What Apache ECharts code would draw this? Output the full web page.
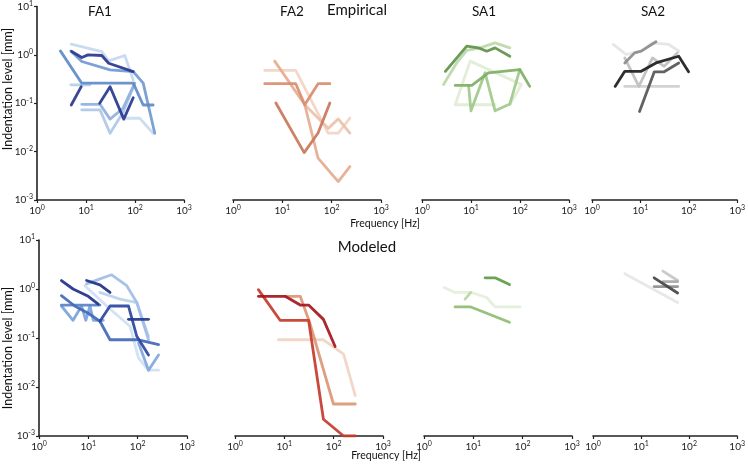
<!DOCTYPE html>
<html><head><meta charset="utf-8">
<script src="https://cdn.jsdelivr.net/npm/echarts/dist/echarts.min.js"></script>
<style>html,body{margin:0;padding:0;background:#fff}#c{width:748px;height:464px}</style>
</head><body><div id="c"></div><script>
// ---------- data: [frequency Hz, indentation mm] ----------
// Empirical FA1
const e1_lightD = [[67,0.049],[125,0.049],[234,0.024]];
const e1_lightA = [[5,1.66],[21,1.17],[29,0.75],[62,0.97],[92,0.30]];
const e1_lightB = [[8.2,0.073],[19.3,0.073],[31,0.024],[58,0.067],[99,0.26]];
const e1_lightC = [[4.9,0.24],[12,0.24]];
const e1_medC = [[8.2,0.095],[19.3,0.095],[31,0.047],[57,0.079],[99,0.26]];
const e1_medB = [[4.9,1.2],[8.2,0.73],[31,0.49],[92,0.45],[147,0.26],[253,0.024]];
const e1_medA = [[3,1.21],[8.2,0.26],[92,0.26],[147,0.092],[234,0.092]];
const e1_navyA = [[5.1,1.17],[8.2,0.88],[11,1.0],[21,0.97],[29,0.67],[92,0.45]];
const e1_navyB = [[5,0.092],[8,0.22]];
const e1_navyC = [[19,0.1],[31,0.22],[59,0.047],[92,0.13]];
// Empirical FA2
const e2_a = [[4.4,0.47],[18.7,0.47],[85,0.024],[136,0.024],[234,0.049]];
const e2_b = [[28.5,0.092],[85,0.03],[136,0.047],[234,0.024]];
const e2_c = [[7,0.73],[28.5,0.092],[53,0.0073],[136,0.0024],[234,0.0049]];
const e2_d = [[4.4,0.25],[18.7,0.25],[28.5,0.092],[53,0.25],[92,0.25]];
const e2_e = [[7.4,0.1],[27.7,0.0095],[53,0.024],[92,0.1]];
// Empirical SA1
const e3_e = [[31,0.092],[4.76,0.092],[9.6,0.73],[107,0.24],[62,0.092]];
const e3_b = [[2.75,0.24],[5.1,0.67],[8.2,1.21],[15.3,1.37],[31,1.74],[62,1.37]];
const e3_d = [[8.9,0.23],[10,0.069],[19.4,0.42],[31,0.069],[62,0.095],[99,0.49]];
const e3_c = [[4.76,0.23],[10.4,0.23],[22.6,0.42],[99,0.49],[158,0.22]];
const e3_a = [[3,0.45],[8.2,1.49],[14.2,1.37],[21,1.17],[31,1.37],[62,0.92]];
// Empirical SA2
const e4_e = [[2.75,1.61],[5.1,1.0],[10.4,1.17],[17.8,1.74],[38.8,1.61],[62,1.17]];
const e4_f = [[4.76,0.22],[62,0.22]];
const e4_d = [[4.76,0.85],[9.3,0.22],[17.8,0.85],[31,0.57],[58,1.08]];
const e4_c = [[4.76,0.67],[7.6,1.08],[10.4,1.17],[21,1.83]];
const e4_b = [[9.6,0.067],[19.4,0.44],[31,0.44],[62,0.67]];
const e4_a = [[3,0.22],[4.76,0.45],[10.4,0.45],[21,0.67],[62,0.92],[99,0.44]];
// Modeled FA1
const m1_j = [[8.5,1.17],[27.5,0.39],[70,0.174],[104,0.039],[166,0.022],[265,0.022]];
const m1_i = [[17.2,0.85],[44,0.62],[96,0.53],[166,0.108]];
const m1_h = [[9.2,1.27],[17.2,1.61],[29.7,1.95],[60,1.17],[96,0.53],[166,0.092]];
const m1_k = [[104,0.079],[166,0.022],[265,0.045]];
const m1_f = [[2.85,0.45],[4.9,0.23],[7.3,0.45],[8.9,0.23],[10.8,0.45],[12.6,0.23],[20.1,0.23]];
const m1_g = [[2.85,0.47],[17.2,0.47]];
const m1_e = [[2.85,0.73],[5.3,0.45],[9.95,0.32],[17.2,0.22],[27.5,0.092],[65,0.092],[104,0.092],[265,0.073]];
const m1_c = [[17.2,0.22],[27.5,0.45],[65,0.45],[96,0.108],[166,0.045]];
const m1_d = [[65,0.24],[166,0.24]];
const m1_a = [[2.85,1.49],[4.9,1.0],[9.95,0.71],[15.9,0.49]];
const m1_b = [[9.2,1.49],[17.2,1.21],[27.5,0.85]];
// Modeled FA2
const m2_d = [[7.6,0.092],[62,0.092],[159,0.047],[274,0.0067]];
const m2_c = [[10.4,0.71],[21,0.71],[33,0.2],[99,0.0045],[274,0.0045]];
const m2_b = [[2.98,0.97],[8.2,0.23],[31,0.23],[62,0.0022],[159,0.001],[274,0.001]];
const m2_a = [[2.98,0.71],[10.4,0.71],[21,0.47],[31,0.47],[62,0.24],[107,0.067]];
// Modeled SA1
const m3_c = [[2.55,1.07],[4.26,0.85],[8.9,0.85],[18.7,0.67],[27.7,0.43],[89,0.43]];
const m3_d = [[6.8,0.62],[8.9,0.85]];
const m3_b = [[4.26,0.43],[8.9,0.43],[18.7,0.32],[54,0.21]];
const m3_a = [[17.3,1.69],[27.7,1.69],[54,1.23]];
// Modeled SA2
const m4_a = [[4.6,2.04],[57.6,0.53]];
const m4_b = [[28.5,2.32],[57.6,1.49]];
const m4_d = [[28.5,1.42],[57.6,1.42]];
const m4_c = [[18.7,1.12],[57.6,1.12]];
const m4_e = [[18.7,1.69],[57.6,0.83]];

const panelTitles = ['FA1','FA2','SA1','SA2'];
const xRange = [1, 1000];
const yRange = [0.001, 10];

// ---------- styling ----------
const panels = [
  {lines:[[e1_lightD,'#c9dbf1'],[e1_lightA,'#c6d8f0'],[e1_lightB,'#aec7e8'],[e1_lightC,'#b5cdea'],[e1_medC,'#8fb0de'],[e1_medB,'#7199d1'],[e1_medA,'#5f8ac8'],[e1_navyA,'#27378f'],[e1_navyB,'#27378f'],[e1_navyC,'#27378f']]},
  {lines:[[e2_a,'#f2d4c3'],[e2_b,'#ecc0a9'],[e2_c,'#e5ab8e'],[e2_d,'#d98d6f'],[e2_e,'#c9775b']]},
  {lines:[[e3_e,'#dfedd5'],[e3_b,'#bcd8a9'],[e3_d,'#a0c98a'],[e3_c,'#7fae65'],[e3_a,'#5f914a']]},
  {lines:[[e4_e,'#e4e4e4'],[e4_f,'#cfcfcf'],[e4_d,'#bfbfbf'],[e4_c,'#8c8c8c'],[e4_b,'#555555'],[e4_a,'#1c1c1c']]},
  {lines:[[m1_j,'#cfe0f4'],[m1_i,'#b8d0ee'],[m1_h,'#9ebde6'],[m1_k,'#80a7dc'],[m1_f,'#7aa2d9'],[m1_g,'#5a82c5'],[m1_e,'#4169b8'],[m1_c,'#2c47a0'],[m1_d,'#22378e'],[m1_a,'#1f3187'],[m1_b,'#1f3187']]},
  {lines:[[m2_d,'#f1d3c3'],[m2_c,'#dd9676'],[m2_b,'#c43b2d'],[m2_a,'#a3161c']]},
  {lines:[[m3_c,'#e3efda'],[m3_d,'#b8d7a3'],[m3_b,'#8dbd70'],[m3_a,'#5e9a45']]},
  {lines:[[m4_a,'#e6e6e6'],[m4_b,'#c6c6c6'],[m4_d,'#a8a8a8'],[m4_c,'#8f8f8f'],[m4_e,'#444444']]}
];
const gridBoxes = [
  {left:37,top:6,width:147,height:194},{left:233,top:6,width:148,height:194},
  {left:422,top:6,width:147,height:194},{left:592,top:6,width:147,height:194},
  {left:39,top:240,width:148,height:196},{left:235,top:240,width:148,height:196},
  {left:424,top:240,width:148,height:196},{left:593,top:240,width:148,height:196}
];
const FONT = 'Lato, "Noto Sans", sans-serif';
const supFmt = v => '{b|10}{s|' + Math.round(Math.log10(v)) + '}';
const rich = {b:{fontSize:10,color:'#222',fontFamily:FONT},s:{fontSize:7,color:'#222',fontFamily:FONT,padding:[0,0,6,0]}};
const axisLine = {show:true,onZero:false,lineStyle:{color:'#222',width:1.6}};

const grid=[], xAxis=[], yAxis=[], series=[];
gridBoxes.forEach((g,i)=>{
  grid.push(Object.assign({containLabel:false},g));
  xAxis.push({type:'log',logBase:10,gridIndex:i,min:xRange[0],max:xRange[1],
    axisLine, axisTick:{show:true,length:3,lineStyle:{color:'#222',width:1.2}},
    splitLine:{show:false},minorTick:{show:false},
    axisLabel:{formatter:supFmt,rich,margin:4}});
  const first = (i%4===0);
  yAxis.push({type:'log',logBase:10,gridIndex:i,min:yRange[0],max:yRange[1],show:first,
    axisLine, axisTick:{show:true,length:3,lineStyle:{color:'#222',width:1.2}},
    splitLine:{show:false},
    axisLabel:{formatter:supFmt,rich,margin:4}});
  panels[i].lines.forEach(([data,color])=>{
    series.push({type:'line',xAxisIndex:i,yAxisIndex:i,data,showSymbol:false,symbol:'none',
      silent:true,animation:false,
      lineStyle:{color,width:2.8,opacity:0.92,join:'round',cap:'round'}});
  });
});

const txt = (x,y,t,size,extra) => Object.assign({type:'text',x,y,style:{text:t,fontSize:size,fontFamily:FONT,fill:'#111',textAlign:'center',textVerticalAlign:'middle'}},extra||{});
const graphic = [
  txt(100,12,panelTitles[0],13.5), txt(292,12,panelTitles[1],13.5), txt(484,12,panelTitles[2],13.5), txt(653,12,panelTitles[3],13.5),
  txt(357,10,'Empirical',15), txt(367,247,'Modeled',15),
  txt(385,224,'Frequency [Hz]',10.5), txt(386,456,'Frequency [Hz]',10.5),
  {type:'text',x:8,y:89,rotation:Math.PI/2,style:{text:'Indentation level [mm]',fontSize:12.5,fontFamily:FONT,fill:'#111',textAlign:'center',textVerticalAlign:'middle'}},
  {type:'text',x:8,y:348,rotation:Math.PI/2,style:{text:'Indentation level [mm]',fontSize:12.5,fontFamily:FONT,fill:'#111',textAlign:'center',textVerticalAlign:'middle'}}
];

const chart = echarts.init(document.getElementById('c'),null,{renderer:'canvas'});
chart.setOption({animation:false,backgroundColor:'#fff',grid,xAxis,yAxis,series,graphic});
</script></body></html>
